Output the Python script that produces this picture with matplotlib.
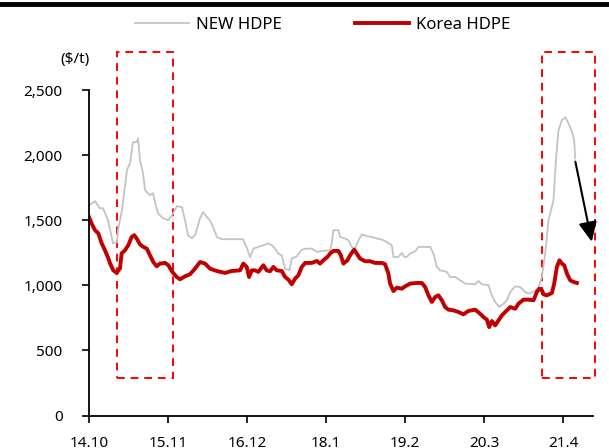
import matplotlib
matplotlib.use('Agg')
import matplotlib.pyplot as plt
from matplotlib.lines import Line2D
from matplotlib.patches import Rectangle
from matplotlib.ticker import FuncFormatter

plt.rcParams['font.family'] = ['Noto Sans', 'DejaVu Sans']
plt.rcParams['font.size'] = 11

# x = months since Oct 2014
new_m = [0, 0.99, 1.81, 2.30, 3.13, 3.95, 4.61, 4.77, 5.43, 6.25, 6.75, 7.24, 7.90, 8.06,
         8.39, 8.89, 9.22, 10.04, 10.53, 10.86, 11.35, 12.18, 13.00, 13.66, 14.48, 15.30,
         15.80, 16.29, 16.95, 17.44, 18.27, 18.76, 19.42, 19.91, 20.41, 21.06, 21.89, 25.34,
         26.00, 26.49, 27.04, 27.86, 28.68, 29.51, 30.06, 30.61, 31.15, 31.71, 32.25, 32.96,
         33.36, 34.18, 35.00, 35.82, 36.65, 37.47, 38.29, 39.66, 39.94, 40.20, 41.03, 41.30,
         42.13, 42.67, 43.23, 43.77, 44.32, 44.88, 45.70, 46.52, 47.34, 48.17, 48.99, 49.81,
         50.08, 50.90, 51.46, 51.84, 52.28, 52.82, 53.65, 54.19, 56.12, 56.66, 57.22, 57.76,
         58.86, 59.41, 60.23, 61.05, 61.88, 63.52, 64.06, 64.62, 65.71, 66.27, 66.81, 67.52,
         68.18, 68.74, 69.28, 70.10, 70.93, 71.75, 72.29, 73.12, 73.94, 74.50, 75.04, 75.58,
         75.86, 76.41, 76.80, 77.23, 77.79, 78.33, 78.88, 79.43, 79.81, 79.98]
new_hdpe = [1615, 1646, 1592, 1592, 1500, 1323, 1331, 1423, 1577, 1885, 1938, 2100, 2100, 2130,
            1962, 1862, 1731, 1692, 1708, 1638, 1554, 1515, 1500, 1538, 1608, 1600,
            1500, 1385, 1362, 1385, 1515, 1562, 1523, 1500, 1446, 1369, 1354, 1354,
            1285, 1215, 1282, 1295, 1308, 1321, 1308, 1282, 1244, 1231, 1128, 1115,
            1205, 1223, 1274, 1282, 1282, 1256, 1264, 1269, 1321, 1423, 1423, 1372,
            1359, 1346, 1295, 1282, 1346, 1392, 1377, 1372, 1359, 1351, 1333, 1308,
            1218, 1218, 1249, 1218, 1218, 1244, 1260, 1295, 1295, 1244, 1141, 1115,
            1103, 1064, 1064, 1038, 1013, 1008, 1033, 1008, 1000, 923, 872, 833,
            859, 885, 949, 992, 987, 949, 936, 949, 987, 1064, 1244, 1500,
            1551, 1654, 1962, 2192, 2269, 2290, 2244, 2179, 2115, 1974]

kor_m = [0, 0.44, 0.99, 1.53, 2.09, 2.63, 3.18, 3.46, 4.00, 4.56, 5.10, 5.38, 5.92, 6.47,
         7.03, 7.45, 7.85, 8.39, 8.94, 9.50, 10.04, 10.58, 11.14, 11.68, 12.51, 13.05,
         13.71, 14.43, 14.97, 15.80, 16.62, 17.44, 18.27, 19.09, 19.91, 21.01, 22.38, 23.48,
         24.85, 25.39, 25.95, 26.33, 26.77, 27.32, 27.86, 28.68, 29.24, 29.79, 30.33, 30.89,
         31.71, 32.25, 32.80, 33.36, 33.90, 34.44, 35.00, 35.55, 36.65, 37.47, 38.00, 38.56,
         39.22, 39.66, 40.20, 41.03, 41.42, 41.85, 42.51, 42.95, 43.61, 44.05, 44.60, 45.42,
         46.24, 47.07, 48.17, 48.71, 49.25, 49.53, 50.08, 50.63, 51.46, 52.00, 52.82, 53.93,
         54.75, 55.29, 55.84, 56.40, 56.94, 57.48, 58.04, 58.58, 59.13, 59.95, 60.77, 61.59,
         62.42, 63.52, 64.34, 64.89, 65.45, 65.82, 66.27, 66.81, 67.36, 67.91, 68.74, 69.28,
         70.10, 70.65, 71.47, 72.29, 73.12, 73.67, 74.10, 74.50, 74.76, 75.32, 76.14, 76.52,
         76.96, 77.39, 77.79, 78.17, 78.61, 79.16, 79.70, 80.25]
korea_hdpe = [1525, 1474, 1423, 1400, 1323, 1269, 1208, 1169, 1115, 1095, 1131, 1246, 1269, 1308,
              1372, 1385, 1359, 1315, 1295, 1282, 1231, 1179, 1146, 1167, 1172, 1154,
              1103, 1064, 1046, 1069, 1085, 1128, 1179, 1167, 1128, 1110, 1095, 1110,
              1115, 1167, 1141, 1064, 1115, 1115, 1103, 1154, 1115, 1108, 1141, 1115,
              1110, 1064, 1044, 1008, 1051, 1077, 1141, 1172, 1172, 1187, 1167, 1192,
              1218, 1244, 1264, 1264, 1231, 1167, 1192, 1231, 1274, 1244, 1205, 1185,
              1185, 1172, 1172, 1162, 1090, 1013, 956, 982, 974, 992, 1013, 1018,
              1018, 987, 923, 872, 910, 923, 885, 833, 813, 808, 795, 777,
              803, 813, 782, 756, 736, 679, 726, 692, 731, 769, 808, 833,
              820, 859, 890, 890, 885, 949, 974, 962, 931, 923, 941, 1013,
              1141, 1192, 1167, 1154, 1090, 1038, 1026, 1018]

tick_pos = [0, 13, 26, 39, 52, 65, 78]
tick_labels = ['14.10', '15.11', '16.12', '18.1', '19.2', '20.3', '21.4']

fig = plt.figure(figsize=(6.09, 4.48), dpi=100)
ax = fig.add_axes([0.1461, 0.0725, 0.8276, 0.7266])

ax.plot(new_m, new_hdpe, color='#c3c3c3', lw=1.3, label='NEW HDPE')
ax.plot(kor_m, korea_hdpe, color='#c00000', lw=2.8, label='Korea HDPE')

# highlight boxes
for x0, x1 in [(4.6, 13.8), (74.5, 83.3)]:
    ax.add_patch(Rectangle((x0, 285), x1 - x0, 2792 - 285, fill=False, ec='#ff0000',
                           lw=1.4, ls=(0, (4, 3)), clip_on=False))

ax.annotate('', xy=(82.7, 1335), xytext=(80.0, 1950),
            arrowprops=dict(arrowstyle='-|>,head_length=0.6,head_width=0.28',
                            color='black', lw=1.5, mutation_scale=20,
                            shrinkA=0, shrinkB=0),
            annotation_clip=False)

ax.set_xlim(0, 82.9)
ax.set_ylim(0, 2500)
ax.set_yticks([0, 500, 1000, 1500, 2000, 2500])
ax.yaxis.set_major_formatter(FuncFormatter(lambda v, p: f'{int(v):,}'))
ax.set_xticks(tick_pos)
ax.set_xticklabels(tick_labels)
ax.tick_params(axis='y', direction='out', length=5, width=1.2, pad=14)
ax.tick_params(axis='x', direction='out', length=5, width=1.2, pad=10)
for s in ['top', 'right']:
    ax.spines[s].set_visible(False)
for s in ['left', 'bottom']:
    ax.spines[s].set_linewidth(1.3)

fig.text(0.123, 0.868, '($/t)', ha='center', va='center', fontsize=11)

ax.legend(loc='center', bbox_to_anchor=(0.53, 0.944), bbox_transform=fig.transFigure,
          ncol=2, frameon=False, handlelength=3.2, handletextpad=0.45,
          columnspacing=4.4, fontsize=12)

fig.add_artist(Line2D([0, 1], [0.991, 0.991], transform=fig.transFigure, color='black', lw=3.5))

fig.savefig('out.png', dpi=100)
